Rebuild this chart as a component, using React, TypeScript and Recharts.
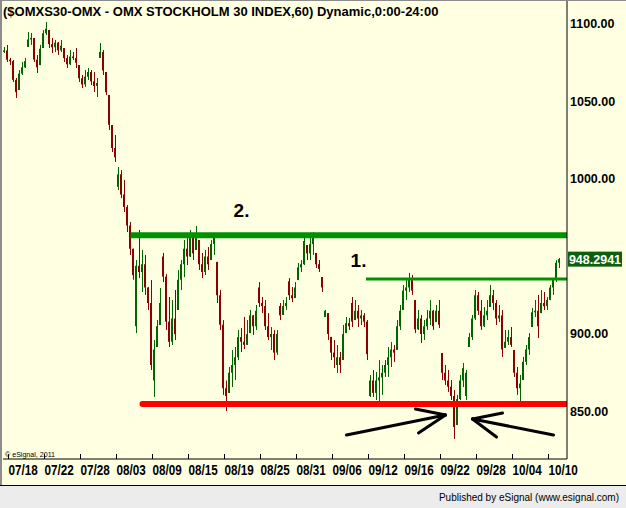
import React from 'react';
import { ComposedChart, Bar, XAxis, YAxis, ReferenceLine, ReferenceDot } from 'recharts';

// hourly bars (3px columns)
const highs = [
  1085.2, 1086.5, 1078.1, 1076.8, 1065.2, 1070.3, 1075.5, 1078.1, 1094.8, 1094.2,
  1091, 1080, 1086.5, 1096.1, 1101.3, 1096.1, 1091, 1089.7, 1088.4, 1089.7,
  1084.5, 1080, 1083.2, 1081.9, 1084.5, 1073.5, 1067.1, 1070.3, 1071.6, 1070.3,
  1069, 1065.2, 1087.7, 1083.2, 1069, 1054.2, 1034.8, 1028.4, 1007.7, 1005.8,
  999.4, 983.2, 972.3, 955, 947.7, 967.1, 954.2, 951, 930.3, 934.8,
  896.1, 909, 929.7, 952.3, 938.7, 923.9, 921.9, 928.4, 941.3, 947.7,
  960.6, 961.9, 967.1, 963.9, 969.7, 960.6, 952.3, 954.2, 956.1, 960.6,
  965.2, 946.5, 928.4, 909, 870, 878.7, 889.7, 891.6, 902.6, 903.9,
  911, 909, 915.5, 912.3, 918.7, 933.5, 923.9, 921.9, 913.5, 904.5,
  902.6, 902.6, 920, 921.9, 923.9, 936.1, 930.3, 933.5, 945.8, 947.7,
  963.9, 957.4, 963.9, 965.8, 952.3, 947.7, 936.7, 915.5, 913.5, 898.1,
  896.1, 892.9, 888.4, 905.8, 911, 910.3, 923.9, 921.9, 918.7, 915.5,
  913.5, 909, 873.5, 876.8, 875.5, 883.2, 880, 883.2, 891.6, 894.8,
  892.9, 909, 918.7, 931.6, 934.8, 939.4, 938.1, 921.9, 915.5, 912.3,
  909, 915.5, 921.9, 915.5, 918.7, 921.9, 887.7, 880, 876.8, 870.3,
  863.9, 860.7, 873.5, 881.3, 876.8, 900.6, 912.3, 928.4, 927.1, 921.9,
  917.4, 921.9, 931.6, 928.4, 921.9, 918.7, 915.5, 902.6, 902.6, 904.5,
  889.7, 878.7, 873.5, 885.2, 892.9, 900.6, 916.8, 921.9, 925.2, 928.4,
  927.1, 923.9, 931.6, 936.1, 947.7, 949,
];
const lows = [
  1081.3, 1075.5, 1073.5, 1062.6, 1052.3, 1057.4, 1067.1, 1071.6, 1085.2, 1086.5,
  1075.5, 1068.4, 1073.5, 1084.5, 1092.9, 1084.5, 1081.3, 1081.9, 1080, 1081.9,
  1075.5, 1071.6, 1073.5, 1076.8, 1071.6, 1062.6, 1058.7, 1059.4, 1063.9, 1060.6,
  1056.1, 1052.9, 1078.1, 1067.1, 1054.2, 1031.6, 1017.4, 1011, 992.9, 987.7,
  978.7, 965.8, 951, 935, 900.6, 936.1, 927.1, 925.2, 915.5, 876.8,
  859.4, 891.6, 905.8, 933.5, 902.6, 891.6, 892.9, 896.1, 915.5, 928.4,
  936.7, 944.5, 949.7, 947.7, 954.2, 941.3, 936.1, 938.1, 941.3, 947.7,
  951, 920, 902.6, 860.7, 850.3, 862, 865.8, 870.3, 883.2, 888.4,
  890.3, 892.9, 900.6, 899.4, 902.6, 917.4, 913.5, 902.6, 896.1, 889.7,
  883.2, 886.5, 909, 912.3, 915.5, 921.9, 920.6, 923.2, 934.8, 940,
  944.5, 947.7, 947.7, 951, 942.6, 940, 927.1, 911, 896.1, 883.2,
  878.1, 874.8, 874.8, 883.2, 900.6, 902.6, 904.5, 909, 904.5, 905.8,
  904.5, 883.2, 859.4, 859.4, 857.4, 853.9, 860.7, 872.3, 872.3, 878.7,
  882, 889.7, 902.6, 915.5, 921.9, 927.1, 925.2, 900.6, 902.6, 894.2,
  896.1, 902.6, 905.8, 902.6, 907.7, 903.9, 870.3, 867.1, 862.6, 857.4,
  832.3, 841.3, 857.4, 865.8, 857.4, 891.6, 896.1, 909, 912.3, 902.6,
  904.5, 909, 917.4, 915.5, 905.8, 907.7, 885.2, 891, 892.9, 891.6,
  872.3, 860.7, 855.5, 870.3, 880, 886.5, 904.5, 911, 897.4, 913.5,
  915.5, 915.5, 921.9, 925.2, 933.5, 942.6,
];
const opens = [
  1082, 1083, 1077, 1076, 1064, 1057.4, 1068, 1072, 1085.2, 1090,
  1091, 1077, 1073.5, 1084.5, 1094, 1096.1, 1087, 1085, 1088, 1083,
  1084.5, 1078, 1074, 1079, 1078, 1073.5, 1065, 1061, 1066, 1069,
  1063, 1060, 1078.1, 1082, 1069, 1054.2, 1034.8, 1020, 995, 1003,
  990, 982, 970, 955, 905, 944, 940, 945, 930, 920,
  870, 891.6, 905.8, 950, 937, 908, 895, 910, 915.5, 935,
  945, 955, 950, 962, 954.2, 960.6, 945, 940, 950, 947.7,
  958, 946.5, 925, 906, 865, 862, 875, 880, 885, 898,
  895, 893, 900.6, 912, 905, 930, 920, 918, 905, 898,
  900, 888, 918, 912.3, 918, 934, 925, 923.2, 934.8, 943,
  945, 957.4, 952, 958, 952.3, 945, 936.7, 911, 913.5, 898.1,
  888, 880, 885, 883.2, 900.6, 907, 920, 909, 915, 910,
  912, 908, 860, 870, 862, 870, 872, 875, 880, 885,
  890, 889.7, 905, 915.5, 928, 930, 935, 921.9, 903, 910,
  900, 905, 910, 915, 907.7, 915, 887.7, 875, 870, 866,
  860, 841.3, 858, 870, 860, 891.6, 898, 910, 925, 915,
  905, 912, 917.4, 925, 920, 910, 912, 891, 895, 898,
  889.7, 875, 865, 870.3, 882, 890, 904.5, 914, 915, 913.5,
  920, 918, 922, 930, 935, 946,
];
const closes = [
  1083, 1077, 1076, 1064, 1056, 1068, 1072, 1076, 1090, 1091,
  1077, 1072, 1084, 1094, 1097, 1087, 1085, 1088, 1083, 1086,
  1078, 1074, 1079, 1078, 1075, 1065, 1061, 1066, 1069, 1063,
  1060, 1062, 1082, 1070, 1056, 1035, 1020, 1014, 1003, 990,
  982, 970, 955, 938, 944, 940, 945, 930, 920, 880,
  890, 905, 920, 937, 908, 895, 910, 900, 935, 945,
  955, 950, 962, 952, 965, 945, 940, 950, 945, 958,
  962, 925, 906, 865, 860, 875, 880, 885, 898, 895,
  893, 900, 912, 905, 915, 920, 918, 905, 898, 900,
  888, 900, 912, 918, 920, 925, 923, 930, 943, 945,
  960, 952, 958, 962, 945, 942, 930, 915, 900, 888,
  885, 885, 880, 900, 907, 905, 908, 915, 910, 912,
  908, 887, 870, 862, 870, 872, 875, 880, 885, 890,
  888, 905, 915, 928, 930, 935, 928, 903, 910, 900,
  905, 910, 915, 905, 915, 906, 875, 870, 866, 860,
  840, 858, 870, 878, 875, 898, 910, 925, 915, 905,
  912, 915, 925, 920, 910, 912, 890, 895, 898, 893,
  875, 865, 868, 882, 890, 898, 914, 915, 905, 920,
  918, 922, 930, 935, 946, 948.2941,
];

const slotCount = 188;
const tickSlots = [1, 13, 25, 37, 49, 61, 73, 85, 97, 109, 121, 133, 145, 157, 169, 181];
const tickLabels = ['07/18', '07/22', '07/28', '08/03', '08/09', '08/15', '08/19', '08/25', '08/31', '09/06', '09/12', '09/16', '09/22', '09/28', '10/04', '10/10'];
const priceTicks = [850, 900, 1000, 1050, 1100];
const priceDomain = [819.35, 1115.48];
const lastPrice = 948.2941;
const resistanceTwo = 963.7;
const resistanceOne = 935.5;
const support = 854.8;

const data = Array.from({ length: slotCount }, (_, i) =>
  i < highs.length
    ? { i, high: highs[i], low: lows[i], open: opens[i], close: closes[i] }
    : { i }
);

const GREEN = '#006400';
const RED = '#8b0000';
const FONT = '"Liberation Sans", Arial, sans-serif';

const Candle = (props: any) => {
  const { x, y, height, payload } = props;
  if (!payload || payload.high == null) return null;
  const top = Math.min(y, y + height);
  const h = Math.abs(height);
  const k = payload.high === payload.low ? 0 : h / (payload.high - payload.low);
  const yo = top + (payload.high - payload.open) * k;
  const yc = top + (payload.high - payload.close) * k;
  const color = payload.close >= payload.open ? GREEN : RED;
  const bx = Math.round(x);
  const by = Math.min(yo, yc);
  const bh = Math.max(1, Math.abs(yo - yc));
  return (
    <g>
      <rect x={bx + 1} y={top} width={1} height={Math.max(1, h)} fill={color} />
      <rect x={bx} y={by} width={2} height={bh} fill={color} />
    </g>
  );
};

const XTick = (props: any) => {
  const { x, y, payload } = props;
  const idx = tickSlots.indexOf(payload.value);
  if (idx < 0) return null;
  return (
    <g>
      <line x1={x + 1} x2={x + 1} y1={y} y2={y - 5} stroke="#000" strokeWidth={1} />
      <text x={x + 1} y={y + 16} fontFamily={FONT} fontSize={14} fontWeight={700} fill="#000"
        textLength={29.3} lengthAdjust="spacingAndGlyphs">
        {tickLabels[idx]}
      </text>
    </g>
  );
};

const YTick = (props: any) => {
  const { x, y, payload } = props;
  return (
    <text x={x} y={y + 4.5} fontFamily={FONT} fontSize={12.5} fontWeight={700} fill="#000" textAnchor="start">
      {Number(payload.value).toFixed(2)}
    </text>
  );
};

const PriceTag = (props: any) => {
  const vb = props.viewBox || {};
  const rx = vb.x + vb.width + 1;
  const cy = vb.y;
  return (
    <g>
      <rect x={rx} y={cy - 7.5} width={54} height={15} fill="#0c5f0c" />
      <text x={rx + 27} y={cy + 4.5} fontFamily={FONT} fontSize={12.5} fontWeight={700} fill="#fff" textAnchor="middle">
        {lastPrice.toFixed(4)}
      </text>
    </g>
  );
};

export default function App() {
  return (
    <div style={{ position: 'absolute', left: 0, top: 0, width: 626, height: 508, background: '#FFFFE1', overflow: 'hidden', fontFamily: FONT }}>
      <ComposedChart width={626} height={485} data={data} margin={{ top: 0, right: 0, bottom: 0, left: 3 }} barCategoryGap={0} barGap={0}>
        <XAxis dataKey="i" type="category" ticks={tickSlots} interval={0} height={26} tickSize={0} tickMargin={0}
          tickLine={false} axisLine={{ stroke: '#000' }} tick={<XTick />} />
        <YAxis orientation="right" width={59} type="number" domain={priceDomain} allowDataOverflow ticks={priceTicks} interval={0}
          tickSize={1} tickMargin={2} tickLine={false} axisLine={{ stroke: '#000' }} tick={<YTick />} />
        <ReferenceLine segment={[{ x: 43, y: resistanceTwo }, { x: 187, y: resistanceTwo }]} stroke="#009100" strokeWidth={6} strokeLinecap="square" ifOverflow="hidden" />
        <ReferenceLine segment={[{ x: 121, y: resistanceOne }, { x: 187, y: resistanceOne }]} stroke="#009100" strokeWidth={3} strokeLinecap="square" ifOverflow="hidden" />
        <ReferenceLine segment={[{ x: 46, y: support }, { x: 187, y: support }]} stroke="#ff0000" strokeWidth={6} strokeLinecap="round" ifOverflow="hidden" />
        <Bar dataKey={(d: any) => (d.high == null ? null : [d.low, d.high])} shape={<Candle />} isAnimationActive={false} />
        <ReferenceLine y={lastPrice} stroke="none" label={(p: any) => <PriceTag {...p} />} />
        {/* arrows */}
        <ReferenceLine segment={[{ x: 114, y: 834.8 }, { x: 147, y: 847.7 }]} stroke="#000" strokeWidth={3} strokeLinecap="round" />
        <ReferenceLine segment={[{ x: 137, y: 851.6 }, { x: 147, y: 847.7 }]} stroke="#000" strokeWidth={3} strokeLinecap="round" />
        <ReferenceLine segment={[{ x: 138, y: 836.1 }, { x: 147, y: 847.7 }]} stroke="#000" strokeWidth={3} strokeLinecap="round" />
        <ReferenceLine segment={[{ x: 183, y: 834.8 }, { x: 156, y: 845.2 }]} stroke="#000" strokeWidth={3} strokeLinecap="round" />
        <ReferenceLine segment={[{ x: 166, y: 849.0 }, { x: 156, y: 845.2 }]} stroke="#000" strokeWidth={3} strokeLinecap="round" />
        <ReferenceLine segment={[{ x: 164, y: 833.5 }, { x: 156, y: 845.2 }]} stroke="#000" strokeWidth={3} strokeLinecap="round" />
        <ReferenceDot x={79} y={980} r={1} fill="none" stroke="none"
          label={{ value: '2.', position: 'center', fontSize: 19, fontWeight: 700, fill: '#000', fontFamily: FONT }} />
        <ReferenceDot x={118} y={947.4} r={1} fill="none" stroke="none"
          label={{ value: '1.', position: 'center', fontSize: 19, fontWeight: 700, fill: '#000', fontFamily: FONT }} />
      </ComposedChart>
      <svg width={626} height={508} style={{ position: 'absolute', left: 0, top: 0, pointerEvents: 'none' }}>
        <rect x={0} y={0} width={626} height={1} fill="#8c8c8c" />
        <rect x={0} y={0} width={2} height={486} fill="#8c8c8c" />
        <text x={3} y={15.5} fontFamily={FONT} fontSize={13} fontWeight={700} fill="#000">
          ($OMXS30-OMX - OMX STOCKHOLM 30 INDEX,60) Dynamic,0:00-24:00
        </text>
        <text x={5} y={457} fontFamily={FONT} fontSize={7.5} fill="#000" textLength={50} lengthAdjust="spacingAndGlyphs">
          © eSignal, 2011
        </text>
        <rect x={0} y={486} width={626} height={22} fill="#ECECEC" />
        <rect x={0} y={485} width={626} height={1} fill="#000" />
        <text x={619} y={501} fontFamily={FONT} fontSize={10} fill="#000" textAnchor="end">
          Published by eSignal (www.esignal.com)
        </text>
      </svg>
    </div>
  );
}
